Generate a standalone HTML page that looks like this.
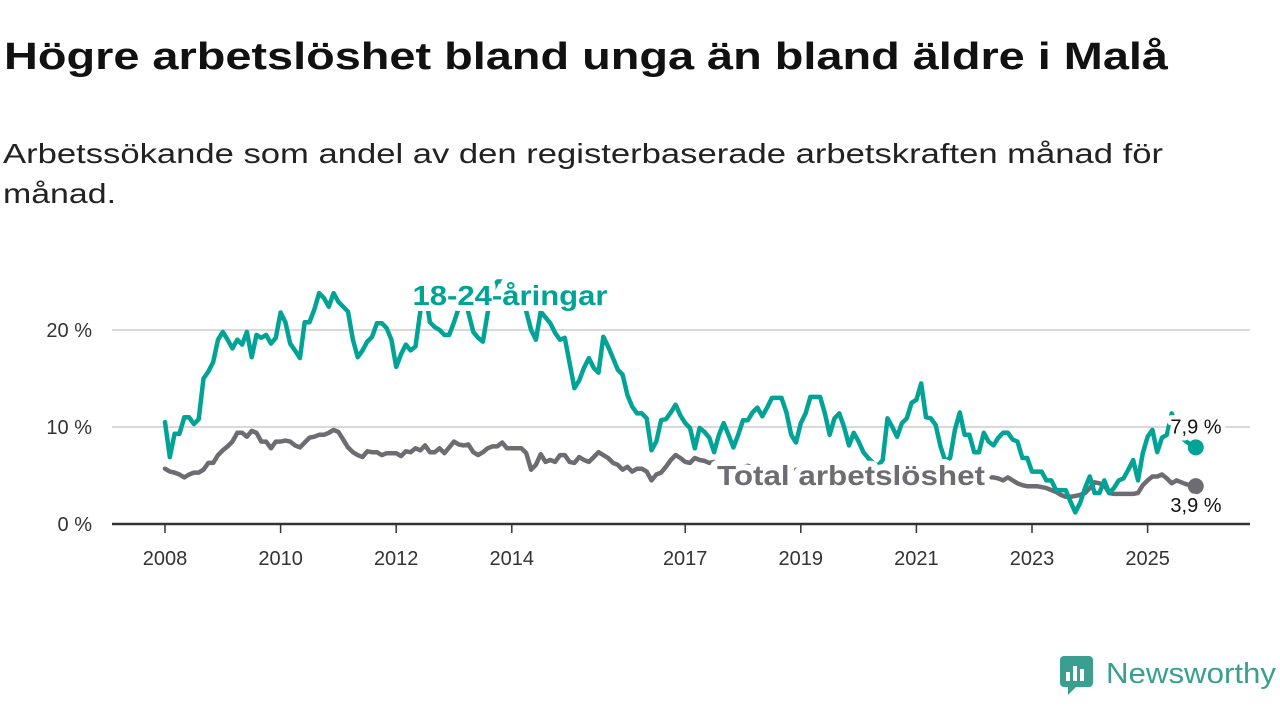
<!DOCTYPE html>
<html><head><meta charset="utf-8">
<style>
html,body{margin:0;padding:0;background:#fff;}
svg{display:block;font-family:"Liberation Sans",sans-serif;}
.halo{paint-order:stroke;stroke:#fff;stroke-width:12px;stroke-linejoin:round;}
.halo2{paint-order:stroke;stroke:#fff;stroke-width:9px;stroke-linejoin:round;}
</style></head>
<body>
<svg id="chart" width="1280" height="720" viewBox="0 0 1280 720" xmlns="http://www.w3.org/2000/svg">
  <text x="4" y="69" font-size="38" font-weight="bold" fill="#111" textLength="1164" lengthAdjust="spacingAndGlyphs">Högre arbetslöshet bland unga än bland äldre i Malå</text>
  <text x="3" y="163" font-size="28" fill="#222" textLength="1160" lengthAdjust="spacingAndGlyphs">Arbetssökande som andel av den registerbaserade arbetskraften månad för</text>
  <text x="3" y="203" font-size="28" fill="#222" textLength="113" lengthAdjust="spacingAndGlyphs">månad.</text>
  <g id="grid"></g>
  <g id="series"></g>
  <g id="labels"></g>
  <g>
    <rect x="1060" y="656" width="33" height="31" rx="4" fill="#3a9e90"/>
    <path d="M1068 686 L1068 695 L1077 686 Z" fill="#3a9e90"/>
    <rect x="1066" y="672" width="4" height="9" fill="#fff"/>
    <rect x="1073" y="666" width="4" height="15" fill="#fff"/>
    <rect x="1080" y="669" width="4" height="12" fill="#fff"/>
    <text x="1106" y="683" font-size="29" fill="#3a9e90" textLength="170" lengthAdjust="spacingAndGlyphs">Newsworthy</text>
  </g>
</svg>
<script>
const yTicks = [0, 10, 20];
const yTickLabels = ["0 %", "10 %", "20 %"];
const xTickYears = [2008, 2010, 2012, 2014, 2017, 2019, 2021, 2023, 2025];
const startYear = 2008;
const youth = [
10.5,6.9,9.3,9.3,11,11,10.3,10.8,15,15.7,
16.7,19,19.8,19,18.1,19,18.5,19.8,17.2,19.5,
19.2,19.5,18.6,19.2,21.8,20.8,18.6,17.9,17.1,20.8,
20.8,22.1,23.8,23.3,22.4,23.8,22.9,22.4,21.9,19,
17.2,17.9,18.8,19.3,20.7,20.7,20.2,19,16.2,17.5,
18.5,17.9,18.3,21.9,24,20.8,20.3,20,19.5,19.5,
20.8,22.3,24,21.8,19.8,19.2,18.8,21.8,24,25,
25,25,24.5,24.5,24,21.9,20,19,21.9,21.3,
20.7,19.7,19,19.2,16.6,14,14.8,16.1,17.1,16.1,
15.6,19.3,18.3,17.1,15.9,15.4,13.3,12.1,11.4,11.4,
10.9,7.6,8.5,10.7,10.8,11.5,12.3,11.2,10.4,9.9,
7.8,9.9,9.5,8.9,7.4,9.2,10.4,9.2,7.9,9.2,
10.7,10.7,11.5,12,11.1,12,13,13,13,11.5,
9.2,8.4,10.4,11.4,13.1,13.1,13.1,11.4,9.2,10.9,
11.4,10,8.1,9.4,8.5,7.4,6.8,6.3,6,6.6,
10.9,10,9,10.4,10.9,12.5,12.8,14.5,11,10.9,
10.2,8,6.5,6.8,9.7,11.5,9.2,9.2,7.4,7.4,
9.4,8.5,8.1,8.9,9.4,9.4,8.7,8.5,6.8,6.8,
5.4,5.4,5.4,4.5,4.5,3.5,3.5,3.5,2.3,1.2,
2.2,3.7,4.9,3.2,3.2,4.5,3.2,3.7,4.5,4.7,
5.6,6.6,4.5,7.3,9,9.7,7.4,8.9,9.2,11.4,
10,9,8.5,8.2,7.9];
const total = [
5.7,5.4,5.3,5.1,4.8,5.1,5.3,5.3,5.6,6.3,
6.3,7.1,7.6,8,8.5,9.4,9.4,9,9.6,9.4,
8.5,8.5,7.8,8.5,8.5,8.6,8.5,8.1,7.9,8.4,
8.9,9,9.2,9.2,9.4,9.7,9.5,8.7,7.9,7.4,
7.1,6.9,7.5,7.4,7.4,7.1,7.3,7.3,7.3,7,
7.5,7.4,7.8,7.6,8.1,7.4,7.4,7.8,7.3,7.9,
8.5,8.2,8.1,8.2,7.4,7.1,7.4,7.8,8,8,
8.4,7.8,7.8,7.8,7.8,7.3,5.6,6.1,7.2,6.4,
6.6,6.4,7.1,7.1,6.4,6.3,6.9,6.6,6.4,6.9,
7.4,7.1,6.8,6.3,6.1,5.6,5.9,5.4,5.7,5.7,
5.4,4.5,5.1,5.3,5.9,6.6,7.1,6.8,6.4,6.3,
6.8,6.6,6.5,6.3,6.4,6.1,6.3,6,6.2,6,
5.9,6,5.8,5.7,5.9,5.6,5.8,5.5,5.7,5.6,
5.4,5.6,5.3,5.5,5.2,5.4,5.5,5.2,5.4,5.3,
5.1,5.3,5.2,5,5.2,5.4,5.6,5.8,6,5.7,
5.5,5.3,5.2,5.4,5.2,5.1,5.3,5.2,5,5.2,
5.1,5,5.2,5,4.9,5,4.9,4.8,4.9,4.8,
4.9,4.8,4.8,4.7,4.5,4.8,4.5,4.2,4,3.9,
3.9,3.9,3.8,3.7,3.5,3.3,3,2.8,2.8,2.9,
3,3.2,3.7,4.3,4.2,4,3.2,3.1,3.1,3.1,
3.1,3.1,3.2,4,4.5,4.9,4.9,5.1,4.7,4.2,
4.5,4.3,4.1,4,3.9];
const youthLast = "7,9 %";
const totalLast = "3,9 %";

const NS = "http://www.w3.org/2000/svg";
const X0 = 165, PX_PER_YEAR = 57.8, Y0 = 524, PX_PER_PCT = 9.7;
function xYear(y){ return X0 + (y - startYear) * PX_PER_YEAR; }
function xMonth(i){ return xYear(startYear + i / 12); }
function yVal(v){ return Y0 - v * PX_PER_PCT; }
function mk(tag, attrs, parent){ const e = document.createElementNS(NS, tag); for (const k in attrs) e.setAttribute(k, attrs[k]); parent.appendChild(e); return e; }

const grid = document.getElementById('grid');
yTicks.forEach((t, i) => {
  if (t !== 0) {
    const gl = mk('line', {x1:112, x2:1250, y1:yVal(t), y2:yVal(t), stroke:'#d9d9d9', 'stroke-width':2}, grid);
    
    
  }
  const lb = mk('text', {x:92, y:yVal(t)+7, 'text-anchor':'end', 'font-size':20, fill:'#333'}, grid);
  lb.textContent = yTickLabels[i];
  
  
});
const ax = mk('line', {x1:112, x2:1250, y1:Y0, y2:Y0, stroke:'#333', 'stroke-width':2.5}, grid);


xTickYears.forEach(yr => {
  const tk = mk('line', {x1:xYear(yr), x2:xYear(yr), y1:Y0, y2:Y0+9, stroke:'#333', 'stroke-width':1.5}, grid);
  
  
  const lb = mk('text', {x:xYear(yr), y:565, 'text-anchor':'middle', 'font-size':20, fill:'#333'}, grid);
  lb.textContent = yr;
  
  
});

const series = document.getElementById('series');
function drawLine(vals, color, name){
  const d = vals.map((v, i) => (i ? 'L' : 'M') + xMonth(i).toFixed(1) + ' ' + yVal(v).toFixed(1)).join(' ');
  const p = mk('path', {d:d, fill:'none', stroke:color, 'stroke-width':4.5, 'stroke-linejoin':'round', 'stroke-linecap':'round'}, series);
  
  
  const n = vals.length - 1;
  const c = mk('circle', {cx:xMonth(n), cy:yVal(vals[n]), r:8, fill:color}, series);
  
  
}
drawLine(total, '#6d6c72', 'total-line');
drawLine(youth, '#00a396', 'youth-line');

const labels = document.getElementById('labels');
const l1 = mk('text', {x:510, y:305, 'text-anchor':'middle', 'font-size':28, 'font-weight':'bold', fill:'#00a396', class:'halo', textLength:195, lengthAdjust:'spacingAndGlyphs'}, labels);
l1.textContent = '18-24-åringar';


const l2 = mk('text', {x:851, y:485, 'text-anchor':'middle', 'font-size':28, 'font-weight':'bold', fill:'#6d6c72', class:'halo', textLength:268, lengthAdjust:'spacingAndGlyphs'}, labels);
l2.textContent = 'Total arbetslöshet';


const n = youth.length - 1;
const e1 = mk('text', {x:1196, y:yVal(youth[n]) - 14, 'text-anchor':'middle', 'font-size':20, fill:'#111', class:'halo2'}, labels);
e1.textContent = youthLast;


const e2 = mk('text', {x:1196, y:yVal(total[n]) + 26, 'text-anchor':'middle', 'font-size':20, fill:'#111', class:'halo2'}, labels);
e2.textContent = totalLast;


</script>
</body></html>
